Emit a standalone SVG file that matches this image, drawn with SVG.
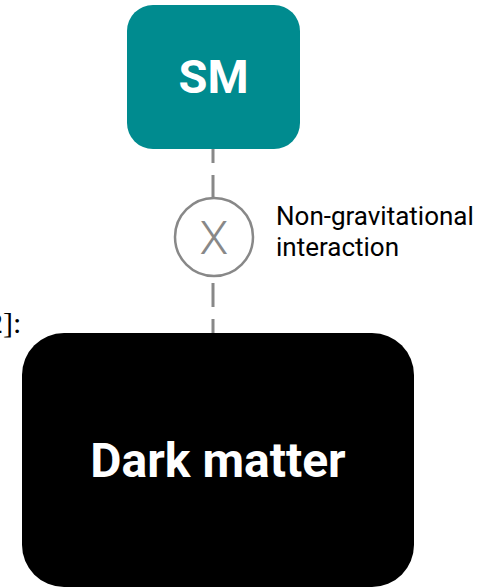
<svg xmlns="http://www.w3.org/2000/svg" width="493" height="587" viewBox="0 0 493 587">
  <style>
    .conn { stroke: #888888; stroke-width: 3; fill: none; }
    .lbl { font-family: Roboto, "Liberation Sans", sans-serif; }
  </style>
  <rect width="493" height="587" fill="#ffffff"/>
  <text x="-12" y="333" font-family="'Liberation Serif', serif" font-size="30" fill="#000000">2]:</text>
  <g id="connectors">
    <line class="conn" x1="213" y1="139" x2="213" y2="345" stroke-dasharray="24 12"/>
  </g>
  <g id="interaction">
    <circle cx="214" cy="237" r="39" fill="#ffffff" stroke="#888888" stroke-width="2.5"/>
    <text class="lbl" x="214" y="254" font-size="47" font-weight="300" fill="#888888" text-anchor="middle">X</text>
    <text class="lbl" x="276" y="225" font-size="26" fill="#000000">Non-gravitational</text>
    <text class="lbl" x="276" y="256" font-size="26" fill="#000000">interaction</text>
  </g>
  <g id="sm">
    <rect x="127" y="5" width="173" height="144" rx="26" fill="#008b8f"/>
    <text class="lbl" x="213.5" y="93" font-size="47" font-weight="bold" fill="#ffffff" text-anchor="middle">SM</text>
  </g>
  <g id="darkmatter">
    <rect x="22" y="333" width="392" height="254" rx="42" fill="#000000"/>
    <text class="lbl" x="218" y="477" font-size="48" font-weight="bold" fill="#ffffff" text-anchor="middle">Dark matter</text>
  </g>
</svg>
